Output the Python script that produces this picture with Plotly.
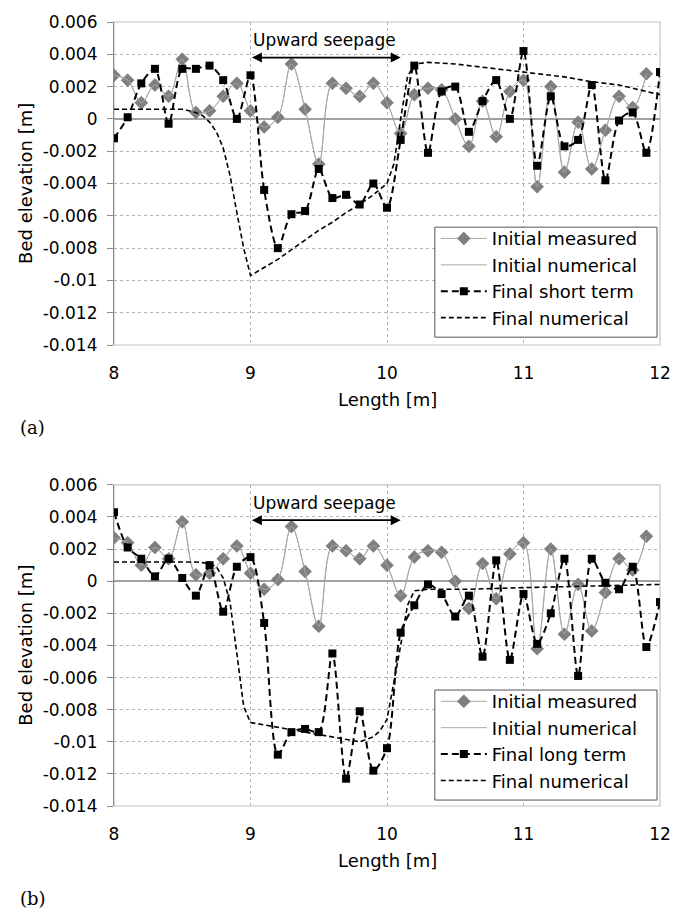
import plotly.graph_objects as go

# ---------------- data ----------------
x_pts = [8.0, 8.1, 8.2, 8.3, 8.4, 8.5, 8.6, 8.7, 8.8, 8.9,
         9.0, 9.1, 9.2, 9.3, 9.4, 9.5, 9.6, 9.7, 9.8, 9.9,
         10.0, 10.1, 10.2, 10.3, 10.4, 10.5, 10.6, 10.7, 10.8, 10.9,
         11.0, 11.1, 11.2, 11.3, 11.4, 11.5, 11.6, 11.7, 11.8, 11.9,
         12.0]

initial_measured = [0.0027, 0.0024, 0.0010, 0.0021, 0.0014, 0.0037, 0.0004, 0.0005, 0.0014, 0.0022,
                    0.0005, -0.0005, 0.0001, 0.0034, 0.0006, -0.0028, 0.0022, 0.0019, 0.0014, 0.0022,
                    0.0010, -0.0009, 0.0015, 0.0019, 0.0018, 0.0000, -0.0017, 0.0011, -0.0011, 0.0017,
                    0.0024, -0.0042, 0.0020, -0.0033, -0.0002, -0.0031, -0.0007, 0.0014, 0.0007, 0.0028]

final_short = [-0.0012, 0.0001, 0.0022, 0.0031, -0.0003, 0.0031, 0.0031, 0.0033, 0.0024, 0.0000,
               0.0027, -0.0044, -0.0080, -0.0059, -0.0057, -0.0031, -0.0049, -0.0047, -0.0053, -0.0040,
               -0.0055, -0.0013, 0.0033, -0.0021, 0.0017, 0.0020, -0.0008, 0.0011, 0.0024, 0.0000,
               0.0042, -0.0029, 0.0014, -0.0017, -0.0013, 0.0021, -0.0038, -0.0001, 0.0004, -0.0021,
               0.0029]

final_long = [0.0043, 0.0021, 0.0014, 0.0003, 0.0014, 0.0002, -0.0009, 0.0010, -0.0019, 0.0009,
              0.0015, -0.0026, -0.0108, -0.0094, -0.0092, -0.0094, -0.0045, -0.0123, -0.0081, -0.0118,
              -0.0104, -0.0032, -0.0015, -0.0002, -0.0008, -0.0022, -0.0009, -0.0047, 0.0013, -0.0049,
              -0.0008, -0.0039, -0.0020, 0.0014, -0.0059, 0.0014, -0.0001, -0.0005, 0.0009, -0.0041,
              -0.0013]

num_a_x = [8.0, 8.3, 8.5, 8.6, 8.65, 8.7, 8.75, 8.8, 8.85, 8.9, 8.95, 9.0,
           9.1, 9.2, 9.3, 9.4, 9.5, 9.6, 9.7, 9.8, 9.9, 10.0,
           10.05, 10.1, 10.15, 10.2, 10.3, 10.5, 10.8, 11.0, 11.3, 11.5, 11.7, 11.9, 12.0]
num_a_y = [0.0006, 0.0006, 0.0006, 0.0004, 0.0002, -0.0002, -0.0008, -0.0018, -0.0035, -0.0058, -0.0080, -0.0097,
           -0.0092, -0.0087, -0.0081, -0.0075, -0.0069, -0.0064, -0.0058, -0.0053, -0.0047, -0.0040,
           -0.0028, 0.0000, 0.0026, 0.0034, 0.0035, 0.0034, 0.0031, 0.0029, 0.0026, 0.0023, 0.0021, 0.0017, 0.0015]

num_b_x = [8.0, 8.3, 8.6, 8.7, 8.75, 8.8, 8.85, 8.9, 8.95, 9.0,
           9.2, 9.4, 9.6, 9.8, 9.9, 9.95, 10.0, 10.05, 10.1, 10.15, 10.2,
           10.3, 10.6, 11.0, 11.5, 12.0]
num_b_y = [0.0012, 0.0012, 0.0012, 0.0011, 0.0009, 0.0002, -0.0013, -0.0045, -0.0078, -0.0088,
           -0.0091, -0.0094, -0.0097, -0.0100, -0.0097, -0.0093, -0.0086, -0.0064, -0.0040, -0.0015, -0.0006,
           -0.0005, -0.0005, -0.0004, -0.0003, -0.0002]

y_tickvals = [0.006, 0.004, 0.002, 0, -0.002, -0.004, -0.006, -0.008, -0.01, -0.012, -0.014]
y_ticktext = ["0.006", "0.004", "0.002", "0", "-0.002", "-0.004", "-0.006", "-0.008", "-0.01", "-0.012", "-0.014"]
x_tickvals = [8, 9, 10, 11, 12]

seep_start, seep_end, seep_y, seep_label_y = 9.0, 10.1, 0.0038, 0.0049

# ---------------- figure ----------------
FONT = "DejaVu Sans, Verdana, sans-serif"
GRAY_M = "#7f7f7f"
GRAY_L = "#a8a8a8"

fig = go.Figure()


def add_panel(row_axes, final_vals, final_name, num_x, num_y, legend_id):
    xa, ya = row_axes
    fig.add_trace(go.Scatter(
        x=x_pts[:len(initial_measured)], y=initial_measured, name="Initial measured",
        mode="lines+markers", line=dict(color=GRAY_L, width=1, shape="spline", smoothing=1.0),
        marker=dict(symbol="diamond", size=10, color=GRAY_M, line=dict(color="#6a6a6a", width=0.5)),
        xaxis=xa, yaxis=ya, legend=legend_id))
    fig.add_trace(go.Scatter(
        x=x_pts[:len(initial_measured)], y=initial_measured, name="Initial numerical",
        mode="lines", line=dict(color=GRAY_L, width=1, shape="spline", smoothing=1.0),
        xaxis=xa, yaxis=ya, legend=legend_id))
    fig.add_trace(go.Scatter(
        x=x_pts, y=final_vals, name=final_name,
        mode="lines+markers", line=dict(color="black", width=2, dash="7px,4px", shape="spline", smoothing=0.8),
        marker=dict(symbol="square", size=8, color="black"),
        xaxis=xa, yaxis=ya, legend=legend_id))
    fig.add_trace(go.Scatter(
        x=num_x, y=num_y, name="Final numerical",
        mode="lines", line=dict(color="black", width=1.6, dash="5px,3px", shape="linear"),
        xaxis=xa, yaxis=ya, legend=legend_id))


add_panel(("x", "y"), final_short, "Final short term", num_a_x, num_a_y, "legend")
add_panel(("x2", "y2"), final_long, "Final long term", num_b_x, num_b_y, "legend2")

TOP_DOM = [0.588, 1.0]
BOT_DOM = [0.0, 0.4096]


def paper_y(py):
    return (806 - py) / 791.0


def paper_x(px):
    return (px - 114) / 548.0


axis_common_x = dict(range=[8, 12], tickvals=x_tickvals, showgrid=True, gridcolor="#b5b5b5",
                     griddash="dot", gridwidth=1, showline=False, zeroline=False, ticks="",
                     ticklabelstandoff=16,
                     tickfont=dict(family=FONT, size=17, color="black"))
axis_common_y = dict(range=[-0.014, 0.006], tickvals=y_tickvals, ticktext=y_ticktext,
                     showgrid=True, gridcolor="#b5b5b5", griddash="dot", gridwidth=1,
                     zeroline=True, zerolinecolor="#a0a0a0", zerolinewidth=1.5,
                     showline=True, linecolor="#8a8a8a", linewidth=1.2,
                     ticks="outside", ticklen=6, tickcolor="#8a8a8a",
                     ticklabelstandoff=6,
                     tickfont=dict(family=FONT, size=17, color="black"))

legend_common = dict(bgcolor="rgba(0,0,0,0)", borderwidth=0,
                     font=dict(family=FONT, size=18, color="black"),
                     xanchor="left", yanchor="top", itemwidth=46, traceorder="normal")

fig.update_layout(
    width=683, height=913,
    margin=dict(l=114, r=21, t=15, b=107),
    paper_bgcolor="white", plot_bgcolor="white",
    showlegend=True,
    xaxis=dict(domain=[0, 1], anchor="y", **axis_common_x),
    yaxis=dict(domain=TOP_DOM, anchor="x", **axis_common_y),
    xaxis2=dict(domain=[0, 1], anchor="y2", **axis_common_x),
    yaxis2=dict(domain=BOT_DOM, anchor="x2", **axis_common_y),
    legend=dict(x=paper_x(437), y=paper_y(215), **legend_common),
    legend2=dict(x=paper_x(437), y=paper_y(215 + 467), **legend_common),
)

# plot-area borders
for xr, yr in (("x domain", "y domain"), ("x2 domain", "y2 domain")):
    fig.add_shape(type="rect", xref=xr, yref=yr, x0=0, x1=1, y0=0, y1=1,
                  line=dict(color="#c4c4c4", width=1.2), layer="below")

# legend boxes (white, bordered) under the legends
for dy in (0, 467):
    fig.add_shape(type="rect", xref="paper", yref="paper",
                  x0=paper_x(436), x1=paper_x(659), y0=paper_y(333 + dy), y1=paper_y(222 + dy),
                  line=dict(color="#555555", width=1), fillcolor="white", layer="above")

# arrows and labels
for xr, yr in (("x", "y"), ("x2", "y2")):
    fig.add_annotation(x=seep_end, y=seep_y, ax=seep_start, ay=seep_y, xref=xr, yref=yr,
                       axref=xr, ayref=yr, text="", showarrow=True, arrowhead=2,
                       arrowside="end+start", arrowsize=1.1, arrowwidth=1.8, arrowcolor="black")
    fig.add_annotation(x=(seep_start + seep_end) / 2 - 0.01, y=seep_label_y, xref=xr, yref=yr,
                       text="Upward seepage", showarrow=False,
                       xanchor="center", yanchor="middle",
                       font=dict(family=FONT, size=17, color="black"))

# axis titles and panel labels
for cy in (178, 644):
    fig.add_annotation(x=paper_x(25), y=paper_y(cy), xref="paper", yref="paper",
                       text="Bed elevation [m]", textangle=-90, showarrow=False,
                       xanchor="center", yanchor="middle",
                       font=dict(family=FONT, size=18, color="black"))
for cy in (396, 861):
    fig.add_annotation(x=paper_x(388), y=paper_y(cy), xref="paper", yref="paper",
                       text="Length [m]", showarrow=False,
                       xanchor="center", yanchor="middle",
                       font=dict(family=FONT, size=18, color="black"))
for lab, cy in (("(a)", 424), ("(b)", 899)):
    fig.add_annotation(x=paper_x(18), y=paper_y(cy), xref="paper", yref="paper",
                       text=lab, showarrow=False, xanchor="left", yanchor="middle",
                       font=dict(family="DejaVu Serif, Liberation Serif, serif", size=18, color="black"))

fig.write_html("out.html")
